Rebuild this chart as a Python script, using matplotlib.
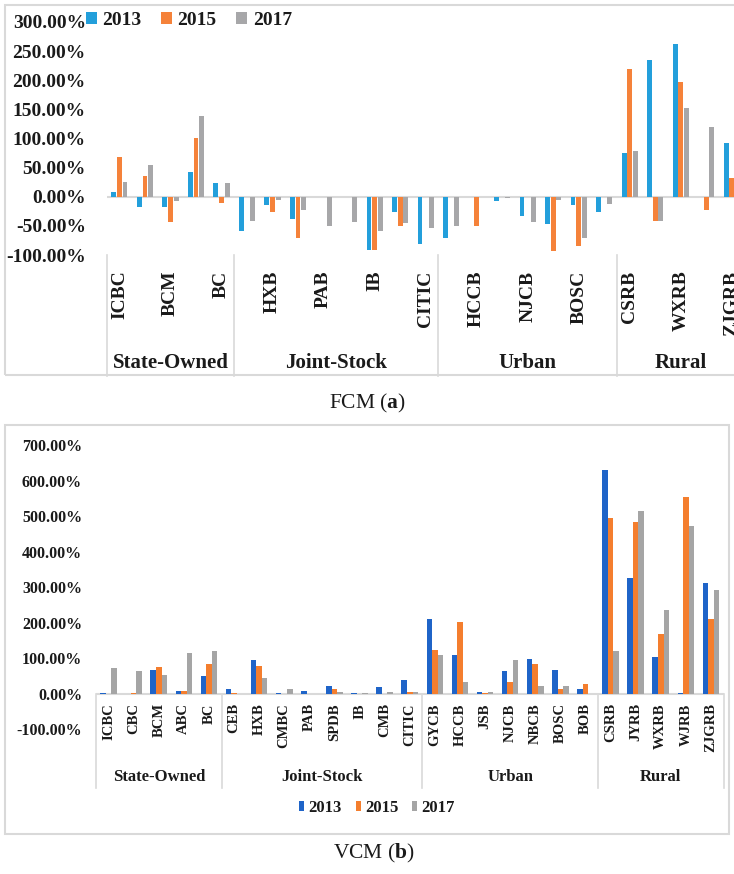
import numpy as np
import matplotlib.pyplot as plt
from matplotlib.patches import Rectangle

# fonts - serif everywhere, caption uses mathtext for the bold letter
plt.rcParams['font.family'] = ['Liberation Serif', 'DejaVu Serif']
plt.rcParams['mathtext.fontset'] = 'custom'
plt.rcParams['mathtext.rm'] = 'Liberation Serif'
plt.rcParams['mathtext.bf'] = 'Liberation Serif:bold'

# banks and their groups
banks = ['ICBC', 'CBC', 'BCM', 'ABC', 'BC',
         'CEB', 'HXB', 'CMBC', 'PAB', 'SPDB', 'IB', 'CMB', 'CITIC',
         'GYCB', 'HCCB', 'JSB', 'NJCB', 'NBCB', 'BOSC', 'BOB',
         'CSRB', 'JYRB', 'WXRB', 'WJRB', 'ZJGRB']
groups = ['State-Owned', 'Joint-Stock', 'Urban', 'Rural']
group_sizes = [5, 8, 7, 5]
years = ['2013', '2015', '2017']

# FCM (a), percent
fcm_2013 = [8, -17, -18, 42, 23, -58, -14, -38, 0, 0, -91, -26, -81,
            -71, 0, -7, -33, -46, -14, -27, 75, 235, 262, 0, 92]
fcm_2015 = [68, 36, -43, 101, -10, 0, -26, -71, 0, 0, -92, -50, 0,
            0, -50, 0, 0, -93, -85, 0, 219, -42, 197, -22, 33]
# last value is cropped out of the original picture
fcm_2017 = [25, 55, -7, 139, 23, -42, -6, -23, -50, -44, -58, -45, -53,
            -51, 0, -3, -43, -6, -71, -13, 79, -42, 152, 119, 60]

# VCM (b), percent
vcm_2013 = [1, 0, 68, 7, 49, 13, 94, 1, 8, 23, 1, 18, 38,
            210, 109, 4, 64, 99, 68, 13, 630, 327, 103, 1, 312]
vcm_2015 = [0, 1, 74, 7, 84, 1, 79, 0, 0, 13, 0, 0, 5,
            124, 201, 1, 33, 83, 13, 28, 494, 484, 169, 554, 210]
vcm_2017 = [73, 64, 53, 114, 119, 0, 43, 13, 0, 6, 1, 4, 5,
            109, 33, 4, 94, 22, 22, 0, 119, 514, 236, 473, 291]

W, H = 734, 874
def fx(px):
    return px / W
def fy(py):
    return 1 - py / H

fig = plt.figure(figsize=(W / 100, H / 100), dpi=100)
txt = '#1a1a1a'
grid = '#D9D9D9'
x = np.arange(len(banks))

# group separators / centres in data coords
edges = np.concatenate([[0], np.cumsum(group_sizes)]) - 0.5
centres = (edges[:-1] + edges[1:]) / 2

# ---------------- top chart (FCM) ----------------
fig.add_artist(Rectangle((fx(5), fy(375)), fx(745) - fx(5), fy(5) - fy(375),
                         transform=fig.transFigure, fill=False, edgecolor=grid, lw=1.5))
ax1 = fig.add_axes([fx(106.7), fy(255), (744.5 - 106.7) / W, 233 / H])
top_cols = ['#239FDB', '#F5823A', '#A7A7A9']
for off, vals, c, yr in zip([-0.22, 0, 0.22], [fcm_2013, fcm_2015, fcm_2017], top_cols, years):
    ax1.bar(x + off, vals, 0.19, color=c, label=yr, zorder=2)
ax1.axhline(0, color=grid, lw=1.5, zorder=1)
ax1.set_xlim(-0.5, 24.5)
ax1.set_ylim(-100, 300)
ticks = np.arange(-100, 301, 50)
ax1.set_yticks(ticks)
ax1.set_yticklabels(['%.2f%%' % t for t in ticks], fontweight='bold', color=txt)
ax1.tick_params(axis='y', length=0, pad=15, labelsize=14)
ax1.set_xticks([])
for s in ax1.spines.values():
    s.set_visible(False)

# every other bank label (as excel skipped them)
for i in range(0, len(banks), 2):
    ax1.text(i, -127, banks[i], rotation=90, ha='center', va='top', fontsize=14,
             fontweight='bold', color=txt, clip_on=False)
for g, cx in zip(groups, centres):
    ax1.text(cx, -285, g, ha='center', va='center', fontsize=15,
             fontweight='bold', color=txt, clip_on=False)
for e in edges[:-1]:
    ax1.plot([e, e], [-100, -307], color=grid, lw=1.2, clip_on=False)

ax1.legend(loc='upper left', bbox_to_anchor=(fx(86), fy(12)), bbox_transform=fig.transFigure,
           ncol=3, frameon=False, prop={'weight': 'bold', 'size': 14},
           handlelength=0.55, handleheight=0.55, handletextpad=0.3,
           columnspacing=1.0, borderpad=0, borderaxespad=0, labelcolor=txt)

fig.text(fx(367), fy(403), r'FCM ($\mathbf{a}$)', ha='center', va='center', fontsize=15.5, color=txt)

# ---------------- bottom chart (VCM) ----------------
fig.add_artist(Rectangle((fx(5), fy(834)), fx(729) - fx(5), fy(425) - fy(834),
                         transform=fig.transFigure, fill=False, edgecolor=grid, lw=1.5))
ax2 = fig.add_axes([fx(96), fy(729.3), 627.5 / W, 284.3 / H])
bot_cols = ['#1F64C8', '#F47E2E', '#A5A5A5']
for off, vals, c, yr in zip([-0.22, 0, 0.22], [vcm_2013, vcm_2015, vcm_2017], bot_cols, years):
    ax2.bar(x + off, vals, 0.22, color=c, label=yr, zorder=2)
ax2.axhline(0, color=grid, lw=1.5, zorder=1)
ax2.set_xlim(-0.5, 24.5)
ax2.set_ylim(-100, 700)
ticks2 = np.arange(-100, 701, 100)
ax2.set_yticks(ticks2)
ax2.set_yticklabels(['%.2f%%' % t for t in ticks2], fontweight='bold', color=txt)
ax2.tick_params(axis='y', length=0, pad=10, labelsize=11.5)
ax2.set_xticks([])
for s in ax2.spines.values():
    s.set_visible(False)

for i in range(len(banks)):
    ax2.text(i, -27, banks[i], rotation=90, ha='center', va='top', fontsize=10.5,
             fontweight='bold', color=txt, clip_on=False)
for g, cx in zip(groups, centres):
    ax2.text(cx, -235, g, ha='center', va='center', fontsize=12,
             fontweight='bold', color=txt, clip_on=False)
for e in edges:
    ax2.plot([e, e], [0, -264], color=grid, lw=1.2, clip_on=False)

ax2.legend(loc='center', bbox_to_anchor=(fx(377), fy(808)), bbox_transform=fig.transFigure,
           ncol=3, frameon=False, prop={'weight': 'bold', 'size': 12},
           handlelength=0.3, handleheight=0.5, handletextpad=0.25,
           columnspacing=0.85, borderpad=0, borderaxespad=0, labelcolor=txt)

fig.text(fx(374), fy(853), r'VCM ($\mathbf{b}$)', ha='center', va='center', fontsize=15.5, color=txt)

plt.savefig('out.png', dpi=100)
